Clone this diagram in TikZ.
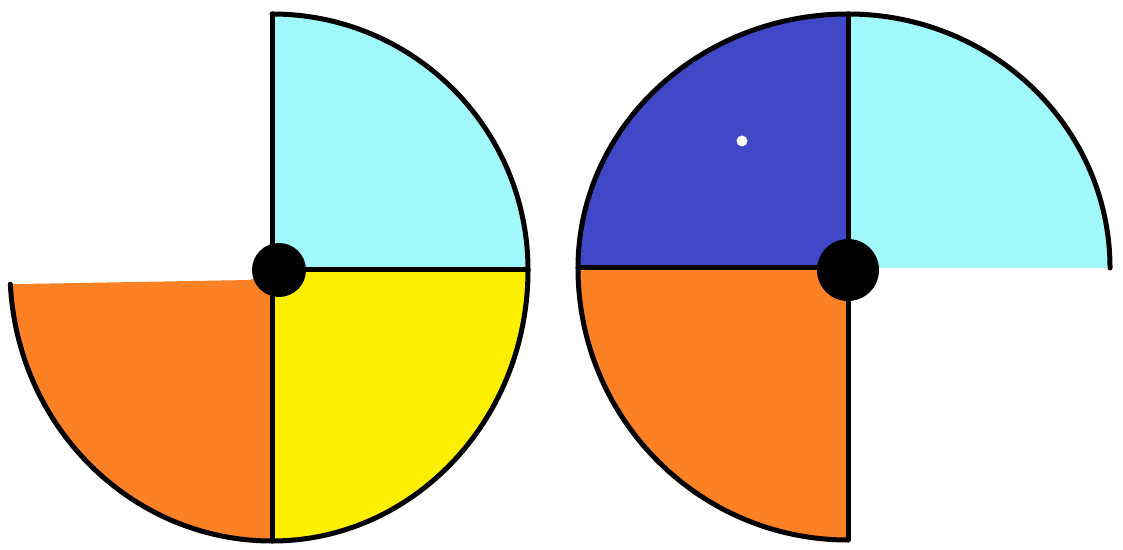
\documentclass[tikz,border=0pt]{standalone}
\usepackage{tikz}
\definecolor{qcyan}{RGB}{160,248,250}
\definecolor{qyellow}{RGB}{252,240,0}
\definecolor{qorange}{RGB}{252,128,36}
\definecolor{qblue}{RGB}{64,72,200}
\tikzset{outline/.style={draw=black,line width=5pt,line cap=round,line join=round}}
\begin{document}
\begin{tikzpicture}[x=1pt,y=1pt]
\useasboundingbox[fill=white] (0,0) rectangle (1123,549);
% ---------- left disc ----------
\coordinate (c1) at (272,279);
\fill[qcyan] (c1) -- (272,535) arc[start angle=90,end angle=0,x radius=256,y radius=256] -- cycle;
\fill[qyellow] (c1) -- (528,279) arc[start angle=0,end angle=-90,x radius=256,y radius=271] -- cycle;
\fill[qorange] (c1) -- (272,8) arc[start angle=-90,end angle=-177,x radius=262,y radius=271] -- (250,269) -- cycle;
\draw[outline] (272,535) arc[start angle=90,end angle=0,x radius=256,y radius=256]
  arc[start angle=0,end angle=-90,x radius=256,y radius=271]
  arc[start angle=-90,end angle=-177,x radius=262,y radius=271];
\draw[outline] (272,535) -- (272,8);
\draw[outline] (c1) -- (528,279);
\fill[black] (279,279) circle[radius=27];
% ---------- right disc ----------
\coordinate (c2) at (848,281);
\fill[qblue] (c2) -- (578,281) arc[start angle=180,end angle=90,x radius=270,y radius=254] -- cycle;
\fill[qcyan] (c2) -- (848,535) arc[start angle=90,end angle=0,x radius=262,y radius=254] -- cycle;
\fill[qorange] (c2) -- (848,9) arc[start angle=-90,end angle=-180,x radius=270,y radius=272] -- cycle;
\draw[outline] (848,9) arc[start angle=-90,end angle=-180,x radius=270,y radius=272]
  arc[start angle=180,end angle=90,x radius=270,y radius=254]
  arc[start angle=90,end angle=0,x radius=262,y radius=254];
\draw[outline] (578,281) -- (c2) -- (874,281);
\draw[outline] (848,535) -- (848,9);
\fill[black] (848,279) circle[radius=31];
\fill[white] (742,408) circle[radius=5.5];
\end{tikzpicture}
\end{document}
